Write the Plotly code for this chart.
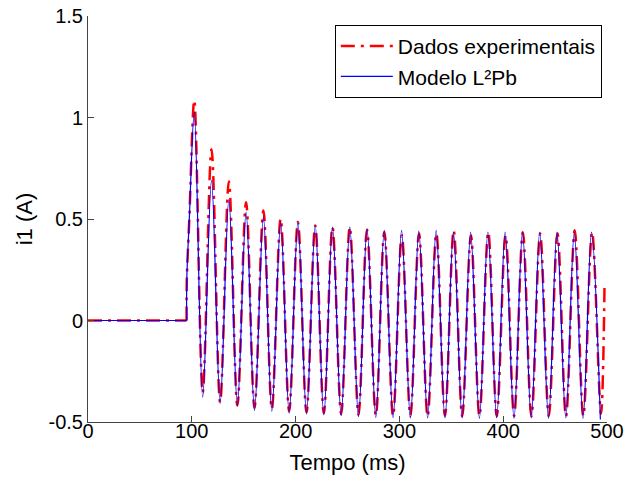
import plotly.graph_objects as go

# ---- data ----
# flat part before the switching instant (ms, A)
pre_t = [0.0, 95.0]
pre_v = [0.0, 0.0]

# experimental data: rise, then alternating peaks / troughs (ms, A)
exp_t = [95.0, 95.2, 97.6, 102.4, 110.5, 119.0, 127.3, 135.7, 143.9, 152.3, 160.4,
         169.0, 177.1, 185.6, 193.8, 202.2, 210.5, 218.9, 227.2, 235.5, 243.9,
         252.2, 260.6, 268.8, 277.3, 285.5, 293.9, 302.3, 310.6, 318.9, 327.2,
         335.6, 343.9, 352.3, 360.5, 368.9, 377.1, 385.6, 393.8, 402.3, 410.5,
         418.9, 427.2, 435.6, 443.9, 452.3, 460.5, 468.9, 477.2, 485.6, 494.2, 497.6]
exp_v = [0.0, 0.20, 0.50, 1.085, -0.354, 0.843, -0.403, 0.685, -0.419, 0.583, -0.430,
         0.542, -0.435, 0.501, -0.447, 0.485, -0.452, 0.468, -0.457, 0.460, -0.460,
         0.460, -0.464, 0.447, -0.468, 0.436, -0.470, 0.419, -0.470, 0.428, -0.472,
         0.428, -0.470, 0.444, -0.472, 0.419, -0.470, 0.435, -0.472, 0.419, -0.470,
         0.435, -0.472, 0.428, -0.470, 0.428, -0.472, 0.444, -0.470, 0.435, -0.460, 0.17]

# model L2Pb: rise, then alternating peaks / troughs (ms, A)
mod_t = [95.0, 95.2, 97.6, 102.4, 110.5, 119.0, 127.3, 135.7, 143.9, 152.3, 160.4,
         169.0, 177.1, 185.6, 193.8, 202.2, 210.5, 218.9, 227.2, 235.5, 243.9,
         252.2, 260.6, 268.8, 277.3, 285.4, 293.9, 302.1, 310.6, 318.7, 327.2,
         335.4, 343.9, 352.0, 360.5, 368.6, 377.1, 385.3, 393.7, 401.9, 410.4,
         418.6, 427.0, 435.2, 443.7, 451.8, 460.3, 468.5, 476.9, 485.1, 493.6]
mod_v = [0.0, 0.21, 0.50, 1.027, -0.378, 0.690, -0.408, 0.595, -0.419, 0.534, -0.444,
         0.509, -0.447, 0.485, -0.457, 0.485, -0.460, 0.468, -0.465, 0.460, -0.469,
         0.460, -0.474, 0.452, -0.477, 0.444, -0.478, 0.444, -0.480, 0.440, -0.480,
         0.444, -0.480, 0.435, -0.480, 0.435, -0.482, 0.435, -0.480, 0.435, -0.482,
         0.435, -0.480, 0.435, -0.482, 0.435, -0.480, 0.435, -0.482, 0.435, -0.488]

x_ticks = [0, 100, 200, 300, 400, 500]
y_ticks = [-0.5, 0, 0.5, 1, 1.5]
y_tick_text = ["-0.5", "0", "0.5", "1", "1.5"]

RED = "#ff0000"
BLUE = "#0000ff"
RED_DASH = "14px,6px,3px,6px"
FONT = "Liberation Sans, Arial, Helvetica, sans-serif"

fig = go.Figure()
fig.add_trace(go.Scatter(x=pre_t, y=pre_v, mode="lines", legendgroup="exp",
                         showlegend=False, hoverinfo="skip",
                         line=dict(color=RED, width=2.5, dash=RED_DASH)))
fig.add_trace(go.Scatter(x=exp_t, y=exp_v, mode="lines", name="Dados experimentais",
                         legendgroup="exp",
                         line=dict(color=RED, width=2.5, dash=RED_DASH, shape="spline")))
fig.add_trace(go.Scatter(x=pre_t, y=pre_v, mode="lines", legendgroup="mod",
                         showlegend=False, hoverinfo="skip",
                         line=dict(color=BLUE, width=1.2)))
fig.add_trace(go.Scatter(x=mod_t, y=mod_v, mode="lines", name="Modelo L²Pb",
                         legendgroup="mod",
                         line=dict(color=BLUE, width=1.2, shape="spline")))

axis_common = dict(
    showgrid=False, zeroline=False, showline=True, linecolor="#444", linewidth=1,
    ticks="inside", ticklen=6, tickwidth=1, tickcolor="#444",
    tickfont=dict(family=FONT, size=20, color="black"),
    mirror=False, automargin=False, ticklabeloverflow="allow",
)

fig.update_layout(
    width=626, height=481,
    margin=dict(l=88, r=19, t=16, b=59),
    paper_bgcolor="white", plot_bgcolor="white",
    font=dict(family=FONT, color="black"),
    xaxis=dict(range=[0, 500], tickvals=x_ticks, ticklabelstandoff=-9,
               title=dict(text="Tempo (ms)", font=dict(family=FONT, size=22), standoff=13),
               **axis_common),
    yaxis=dict(range=[-0.5, 1.5], tickvals=y_ticks, ticktext=y_tick_text,
               title=dict(text="i1 (A)", font=dict(family=FONT, size=22), standoff=9),
               **axis_common),
    legend=dict(x=0.99, y=0.978, xanchor="right", yanchor="top",
                bgcolor="white", bordercolor="black", borderwidth=1,
                font=dict(family=FONT, size=21), itemwidth=52,
                tracegroupgap=0),
    showlegend=True,
)

fig.write_html(
    "out.html",
    config={"displayModeBar": False},
    post_script="document.body.style.margin='0';document.body.style.overflow='hidden';",
)
